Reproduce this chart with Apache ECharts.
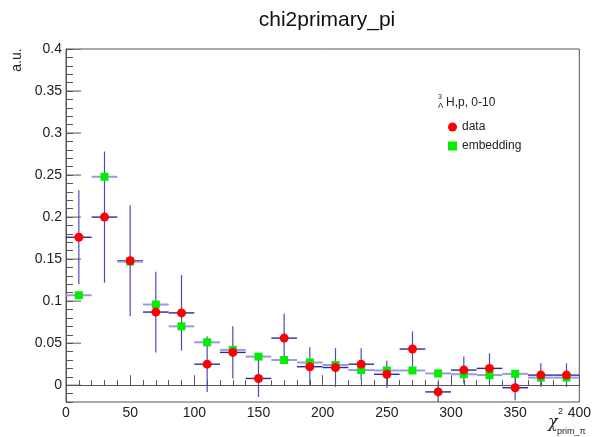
<!DOCTYPE html>
<html>
<head>
<meta charset="utf-8">
<script src="https://cdn.jsdelivr.net/npm/echarts@6/dist/echarts.min.js"></script>
<style>
  html, body { margin: 0; padding: 0; background: #fff; }
  #chart { width: 594px; height: 437px; }
</style>
</head>
<body>
<div id="chart"></div>
<script>
// bin centres (bin width 20)
var binCenters = [10, 30, 50, 70, 90, 110, 130, 150, 170, 190, 210, 230, 250, 270, 290, 310, 330, 350, 370, 390];
// data points and their errors
var dataVals = [0.176, 0.200, 0.148, 0.087, 0.086, 0.025, 0.039, 0.008, 0.056, 0.022, 0.021, 0.025, 0.013, 0.043, -0.008, 0.018, 0.020, -0.003, 0.012, 0.012];
var dataErrs = [0.056, 0.078, 0.066, 0.048, 0.045, 0.033, 0.031, 0.022, 0.029, 0.023, 0.023, 0.019, 0.016, 0.021, 0.012, 0.016, 0.018, 0.015, 0.014, 0.014];
// embedding
var embVals = [0.107, 0.248, 0.147, 0.096, 0.070, 0.051, 0.042, 0.034, 0.030, 0.027, 0.024, 0.018, 0.0175, 0.0175, 0.014, 0.013, 0.012, 0.0135, 0.009, 0.009];
// long ticks on the y axis
var yMajorTicks = [0, 0.05, 0.1, 0.15, 0.2, 0.25, 0.3, 0.35, 0.4];
var halfBin = 10;

var FONT = 'Liberation Sans, Arial, Helvetica, sans-serif';

function dataBars(params, api)
{
    var x = api.value(0), y = api.value(1), e = api.value(2);
    var l = api.coord([x - halfBin, y]), r = api.coord([x + halfBin, y]);
    var t = api.coord([x, y + e]), b = api.coord([x, y - e]);
    return {
        type: 'group',
        children: [
            {type: 'line', shape: {x1: t[0], y1: t[1], x2: b[0], y2: b[1]}, style: {stroke: '#4a4abd', lineWidth: 1.2}},
            {type: 'line', shape: {x1: l[0], y1: l[1], x2: r[0], y2: r[1]}, style: {stroke: '#2a2a9e', lineWidth: 1.4}}
        ]
    };
}

function embBars(params, api)
{
    var x = api.value(0), y = api.value(1);
    var l = api.coord([x - halfBin, y]), r = api.coord([x + halfBin, y]);
    return {type: 'line', shape: {x1: l[0], y1: l[1], x2: r[0], y2: r[1]}, style: {stroke: '#9a9ade', lineWidth: 2}};
}

function bigTick(params, api)
{
    var p = api.coord([0, api.value(1)]);
    return {type: 'line', shape: {x1: p[0], y1: p[1], x2: p[0] + 15, y2: p[1]}, style: {stroke: '#555', lineWidth: 1}};
}

var chart = echarts.init(document.getElementById('chart'));
var option = {
    animation: false,
    backgroundColor: '#fff',
    textStyle: {fontFamily: FONT},
    grid: {left: 66, right: 8, top: 49, bottom: 35, show: true, borderColor: '#555', borderWidth: 1, backgroundColor: 'transparent'},
    xAxis: {
        type: 'value', min: 0, max: 400, interval: 50,
        axisLine: {show: true, lineStyle: {color: '#555'}},
        axisTick: {show: true, inside: true, length: 10, lineStyle: {color: '#555'}},
        minorTick: {show: true, splitNumber: 5, length: 5, lineStyle: {color: '#555'}},
        splitLine: {show: false},
        axisLabel: {color: '#222', fontSize: 14, margin: 4, fontFamily: FONT}
    },
    yAxis: {
        type: 'value', min: -0.02, max: 0.4, interval: 0.01,
        axisLine: {show: true, lineStyle: {color: '#555'}},
        axisTick: {show: true, inside: true, length: 7, lineStyle: {color: '#555'}},
        splitLine: {show: false},
        axisLabel: {
            color: '#222', fontSize: 14, margin: 4, fontFamily: FONT,
            formatter: function (v) {
                var k = Math.round(v / 0.05);
                if (Math.abs(v - k * 0.05) > 1e-6 || k < 0) return '';
                return String(+(k * 0.05).toFixed(2));
            }
        }
    },
    legend: {
        orient: 'vertical', left: 443, top: 115, itemWidth: 9, itemHeight: 9, itemGap: 5,
        textStyle: {fontSize: 12, lineHeight: 14, color: '#222', fontFamily: FONT},
        data: ['data', 'embedding']
    },
    graphic: [
        {type: 'text', position: [327, 20], style: {text: 'chi2primary_pi', fill: '#111', font: '21px ' + FONT, textAlign: 'center', textVerticalAlign: 'middle'}},
        {type: 'text', position: [17, 60], rotation: Math.PI / 2, style: {text: 'a.u.', fill: '#222', font: '14px ' + FONT, textAlign: 'center', textVerticalAlign: 'middle'}},
        {type: 'text', position: [438, 97], style: {text: '3', fill: '#222', font: '7px ' + FONT, textAlign: 'left', textVerticalAlign: 'middle'}},
        {type: 'text', position: [438, 106], style: {text: 'Λ', fill: '#222', font: '8px ' + FONT, textAlign: 'left', textVerticalAlign: 'middle'}},
        {type: 'text', position: [446, 103], style: {text: 'H,p, 0-10', fill: '#222', font: '12px ' + FONT, textAlign: 'left', textVerticalAlign: 'middle'}},
        {type: 'text', position: [548, 423], style: {text: 'χ', fill: '#222', font: 'italic 16px DejaVu Serif, serif', textAlign: 'left', textVerticalAlign: 'middle'}},
        {type: 'text', position: [558, 412], style: {text: '2', fill: '#222', font: '9px ' + FONT, textAlign: 'left', textVerticalAlign: 'middle'}},
        {type: 'text', position: [557, 432], style: {text: 'prim_π', fill: '#222', font: '9px ' + FONT, textAlign: 'left', textVerticalAlign: 'middle'}}
    ],
    series: [
        {
            type: 'custom', silent: true, z: 1, clip: true,
            renderItem: bigTick,
            data: yMajorTicks.map(function (v) { return [0, v]; })
        },
        {
            type: 'custom', silent: true, z: 2, clip: true,
            renderItem: dataBars,
            data: binCenters.map(function (x, i) { return [x, dataVals[i], dataErrs[i]]; })
        },
        {
            type: 'custom', silent: true, z: 3, clip: true,
            renderItem: embBars,
            data: binCenters.map(function (x, i) { return [x, embVals[i]]; })
        },
        {
            name: 'embedding', type: 'scatter', symbol: 'rect', symbolSize: 8, z: 4,
            itemStyle: {color: '#00ee00', opacity: 1},
            data: binCenters.map(function (x, i) { return [x, embVals[i]]; })
        },
        {
            name: 'data', type: 'scatter', symbol: 'circle', symbolSize: 9, z: 5,
            itemStyle: {color: '#ff0000', opacity: 1},
            data: binCenters.map(function (x, i) { return [x, dataVals[i]]; })
        }
    ]
};
chart.setOption(option);
</script>
</body>
</html>
